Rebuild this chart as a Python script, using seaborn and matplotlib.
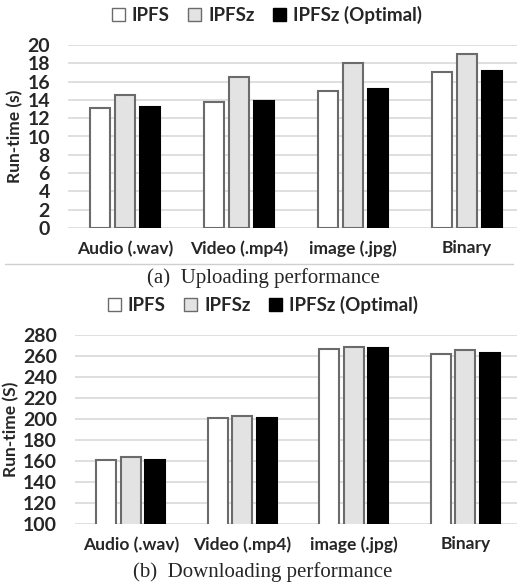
import pandas as pd
import matplotlib
matplotlib.use("Agg")
import matplotlib.pyplot as plt
import seaborn as sns
from matplotlib.patches import Patch
from matplotlib.lines import Line2D

# Data
file_types = ["Audio (.wav)", "Video (.mp4)", "image (.jpg)", "Binary"]
methods = ["IPFS", "IPFSz", "IPFSz (Optimal)"]

upload_ipfs = [13.1, 13.8, 15.0, 17.0]
upload_ipfsz = [14.5, 16.5, 18.0, 19.0]
upload_opt = [13.2, 13.9, 15.2, 17.2]

download_ipfs = [161.0, 200.5, 267.0, 262.0]
download_ipfsz = [163.5, 203.0, 269.0, 265.5]
download_opt = [161.2, 201.0, 267.5, 262.8]

colors = ["#ffffff", "#e3e3e3", "#000000"]
edges = ["#6b6b6b", "#6b6b6b", "#000000"]


def to_long(a, b, c):
    rows = []
    for m, vals in zip(methods, [a, b, c]):
        for f, v in zip(file_types, vals):
            rows.append({"type": f, "method": m, "value": v})
    return pd.DataFrame(rows)


df_up = to_long(upload_ipfs, upload_ipfsz, upload_opt)
df_down = to_long(download_ipfs, download_ipfsz, download_opt)

sns.set_style("white")
plt.rcParams["font.family"] = ["Lato", "DejaVu Sans"]

W, H = 517, 585
fig = plt.figure(figsize=(W / 100, H / 100), dpi=100)


def px_axes(left, top, right, bottom):
    return fig.add_axes([left / W, 1 - bottom / H, (right - left) / W, (bottom - top) / H])


def draw(ax, df, ylim, ticks, ylabel):
    sns.barplot(data=df, x="type", y="value", hue="method", order=file_types,
                hue_order=methods, palette=colors, width=0.66, gap=0.2,
                linewidth=1.5, legend=False, ax=ax, zorder=3)
    # edge colour per series
    for i, cont in enumerate(ax.containers):
        for bar in cont:
            bar.set_edgecolor(edges[i])
    ax.set_ylim(*ylim)
    ax.set_yticks(ticks)
    ax.set_yticklabels([str(t) for t in ticks], fontsize=14, fontweight="bold")
    ax.set_xticklabels(file_types, fontsize=12.5, fontweight="bold")
    ax.tick_params(axis="y", length=0, pad=13)
    ax.tick_params(axis="x", length=0, pad=9)
    ax.set_xlabel("")
    ax.set_ylabel(ylabel, fontsize=12.5, fontweight="bold", labelpad=3)
    ax.grid(axis="y", color="#d9d9d9", linewidth=1.2, zorder=0)
    ax.set_axisbelow(True)
    for s in ax.spines.values():
        s.set_visible(False)


handles = [Patch(facecolor=c, edgecolor=e, linewidth=1.0) for c, e in zip(colors, edges)]
leg_kw = dict(loc="center", ncol=3, frameon=False, prop={"weight": "bold", "size": 13.5},
              handlelength=0.7, handleheight=0.7, handletextpad=0.35, columnspacing=1.0)

# (a) uploading
ax1 = px_axes(68, 45, 524, 228)
draw(ax1, df_up, (0, 20), list(range(0, 21, 2)), "Run-time (s)")
fig.legend(handles, methods, bbox_to_anchor=(267 / W, 1 - 15 / H), **leg_kw)
fig.add_artist(Line2D([5 / W, 513 / W], [1 - 264 / H, 1 - 264 / H],
                      transform=fig.transFigure, color="#cfcfcf", linewidth=1))
fig.text(263 / W, 1 - 278 / H, "(a)  Uploading performance", ha="center", va="center",
         fontsize=15, family="Liberation Serif")

# (b) downloading
ax2 = px_axes(75, 335, 521, 524)
draw(ax2, df_down, (100, 280), list(range(100, 281, 20)), "Run-time (S)")
fig.legend(handles, methods, bbox_to_anchor=(263 / W, 1 - 305 / H), **leg_kw)
fig.text(263 / W, 1 - 572 / H, "(b)  Downloading performance", ha="center", va="center",
         fontsize=15, family="Liberation Serif")

fig.savefig("out.png", dpi=100)
